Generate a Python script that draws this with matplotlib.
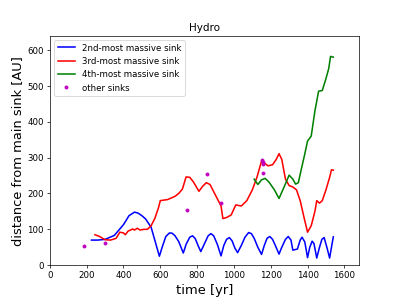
import matplotlib
matplotlib.use("Agg")
import matplotlib.pyplot as plt

# 2nd-most massive sink
t2 = [226, 260, 300, 350, 400, 430, 460, 480, 500, 520, 550, 570, 595, 610, 630, 650, 665, 680, 700,
      725, 740, 760, 775, 790, 805, 820, 840, 860, 875, 890, 910, 930, 945, 960, 975, 990, 1005,
      1020, 1040, 1060, 1080, 1095, 1110, 1130, 1150, 1165, 1180, 1195, 1210, 1225, 1245, 1260,
      1280, 1295, 1310, 1320, 1345, 1360, 1370, 1385, 1400, 1412, 1425, 1435, 1450, 1465, 1478,
      1490, 1505, 1520, 1530, 1540]
d2 = [70, 70, 72, 83, 113, 138, 148, 145, 138, 129, 106, 70, 25, 50, 80, 90, 89, 82, 66,
      34, 58, 78, 82, 74, 55, 38, 60, 82, 88, 82, 58, 26, 55, 72, 77, 68, 48,
      35, 55, 78, 91, 88, 75, 50, 30, 55, 75, 80, 72, 55, 31, 50,
      72, 80, 70, 42, 45, 70, 78, 65, 21, 50, 67, 60, 20, 50, 72,
      77, 50, 20, 50, 79]

# 3rd-most massive sink
t3 = [245, 270, 300, 330, 360, 380, 400, 410, 425, 450, 460, 475, 490, 510, 530, 550, 570, 590,
      600, 640, 680, 700, 720, 740, 760, 780, 810, 830, 850, 870, 900, 930, 940, 960, 985, 1010,
      1040, 1070, 1100, 1125, 1150, 1165, 1185, 1210, 1230, 1245, 1260, 1280, 1300, 1320, 1340,
      1360, 1380, 1400, 1420, 1440, 1450, 1465, 1480, 1500, 1520, 1530, 1540]
d3 = [85, 80, 71, 70, 75, 92, 90, 85, 95, 101, 98, 103, 98, 100, 100, 110, 130, 160,
      180, 183, 192, 200, 212, 246, 245, 232, 206, 220, 230, 225, 195, 165, 130, 133, 140, 168,
      165, 180, 210, 245, 290, 285, 277, 280, 295, 311, 295, 240, 222, 218, 210,
      180, 135, 92, 110, 150, 180, 173, 180, 210, 245, 266, 265]

# 4th-most massive sink
t4 = [1110, 1130, 1150, 1170, 1190, 1220, 1245, 1270, 1300, 1320, 1335, 1350, 1365, 1385, 1400,
      1420, 1440, 1460, 1480, 1500, 1515, 1525, 1540]
d4 = [240, 225, 238, 242, 232, 210, 186, 215, 251, 240, 226, 230, 265, 310, 346,
      360, 430, 485, 487, 520, 548, 582, 580]

# other sinks
to = [185, 301, 746, 852, 928, 1154, 1156, 1156, 1156]
do = [54, 63, 153, 254, 172, 293, 288, 282, 257]

fig = plt.figure(figsize=(6.4, 4.783), dpi=62.34)
ax = fig.add_subplot(111)
ax.plot(t2, d2, color='b', lw=1.8, label='2nd-most massive sink')
ax.plot(t3, d3, color='r', lw=1.8, label='3rd-most massive sink')
ax.plot(t4, d4, color='g', lw=1.8, label='4th-most massive sink')
ax.plot(to, do, 'm.', ms=7, label='other sinks')
ax.set_xlim(0, 1680)
ax.set_ylim(0, 640)
ax.set_title('Hydro')
ax.set_xlabel('time [yr]', fontsize=15)
ax.set_ylabel('distance from main sink [AU]', fontsize=15)
ax.legend(loc='upper left')
fig.savefig('out.png', dpi=62.34)
